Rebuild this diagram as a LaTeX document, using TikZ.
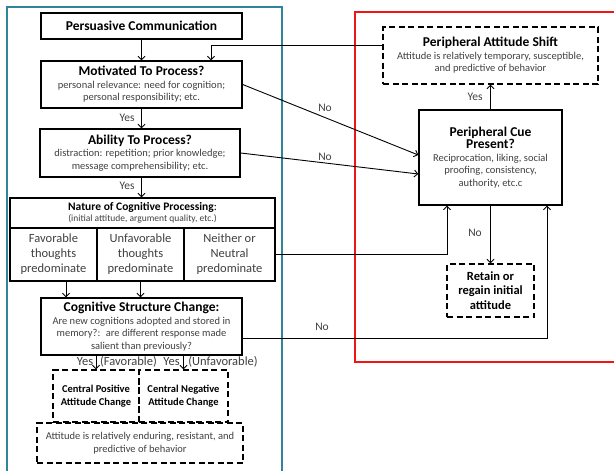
\documentclass[tikz,border=0pt]{standalone}
\usepackage{fontspec}
\setmainfont{Carlito}
\usetikzlibrary{arrows.meta}

\definecolor{frameblue}{RGB}{49,133,155}
\definecolor{framered}{RGB}{240,20,20}
\definecolor{textgray}{RGB}{64,64,64}

\newcommand{\ttlfont}{\color{black}\bfseries\fontsize{13.5}{15.5}\selectfont}

\begin{document}
\begin{tikzpicture}[x=1pt,y=-1pt,
  box/.style={draw, line width=1.4pt, align=center, inner sep=1pt,
    text=textgray, font=\fontsize{10.5}{12.5}\selectfont},
  dbox/.style={box, dash pattern=on 6pt off 3.5pt},
  subbox/.style={box, font=\fontsize{12.5}{15}\selectfont},
  arr/.style={line width=0.9pt, -{Straight Barb[length=3.5pt,width=7pt]}},
  lbl/.style={text=textgray, font=\fontsize{11.5}{13}\selectfont, inner sep=1pt},
  blbl/.style={lbl, font=\fontsize{12.5}{14}\selectfont}]

  \useasboundingbox (0,0) rectangle (614,471);

  % frames
  \draw[frameblue, line width=1.4pt] (7,475) -- (7,7) -- (282,7) -- (282,475);
  \draw[framered, line width=1.4pt] (620,12) -- (355,12) -- (355,362) -- (620,362);

  % central route
  \node[box, minimum width=201, minimum height=26] (pc) at (141.5,26)
    {\ttlfont Persuasive Communication};
  \node[box, minimum width=201, minimum height=47] (mot) at (141.5,84.5)
    {{\ttlfont Motivated To Process?}\\
     personal relevance: need for cognition;\\ personal responsibility; etc.};
  \node[box, minimum width=200, minimum height=48] (abl) at (140,153)
    {{\ttlfont Ability To Process?}\\
     distraction: repetition; prior knowledge;\\ message comprehensibility; etc.};
  \node[box, minimum width=265, minimum height=30, font=\fontsize{9.5}{11}\selectfont] (nat) at (142.5,213)
    {{\color{black}\bfseries\fontsize{11.5}{13}\selectfont Nature of Cognitive Processing}{\color{black}\fontsize{11.5}{13}\selectfont:}\\
     (initial attitude, argument quality, etc.)};
  \node[subbox, minimum width=87, minimum height=53] (fav) at (53.5,254.5)
    {Favorable\\thoughts\\predominate};
  \node[subbox, minimum width=87, minimum height=53] (unf) at (140.5,254.5)
    {Unfavorable\\thoughts\\predominate};
  \node[subbox, minimum width=91, minimum height=53] (nei) at (229.5,254.5)
    {Neither or\\Neutral\\predominate};
  \node[box, minimum width=201, minimum height=57] (csc) at (141.5,326.5)
    {{\ttlfont Cognitive Structure Change:}\\
     Are new cognitions adopted and stored in\\
     memory?:~ are different response made\\ salient than previously?};
  \node[dbox, minimum width=86, minimum height=52, text=black, font=\bfseries\fontsize{10.5}{12.5}\selectfont]
    (cpos) at (96,396) {Central Positive\\Attitude Change};
  \node[dbox, minimum width=89, minimum height=52, text=black, font=\bfseries\fontsize{10.5}{12.5}\selectfont]
    (cneg) at (183.5,396) {Central Negative\\Attitude Change};
  \node[dbox, minimum width=206, minimum height=40] (cent) at (140,443)
    {Attitude is relatively enduring, resistant, and\\ predictive of behavior};

  % peripheral route
  \node[dbox, minimum width=215, minimum height=57] (pas) at (490.5,55.5)
    {{\ttlfont Peripheral Attitude Shift}\\
     Attitude is relatively temporary, susceptible,\\ and predictive of behavior};
  \node[box, minimum width=143, minimum height=95] (cue) at (490.5,157.5)
    {{\ttlfont Peripheral Cue}\\ {\ttlfont Present?}\\
     Reciprocation, liking, social\\ proofing, consistency,\\ authority, etc.c};
  \node[dbox, minimum width=87, minimum height=53, text=black, font=\bfseries\fontsize{12.5}{14.5}\selectfont]
    (ret) at (490.5,290.5) {Retain or\\regain initial\\attitude};

  % connectors
  \draw[arr] (pc) -- (mot);
  \draw[arr] (mot) -- (abl.north -| mot.south);
  \draw[arr] (abl.south -| mot.south) -- (nat.north -| mot.south);
  \draw[arr] ([xshift=12.5pt]fav.south) -- ([xshift=12.5pt]fav.south |- csc.north);
  \draw[arr] (unf.south) -- (unf.south |- csc.north);
  \draw[arr] (csc.south -| cpos.north) -- (cpos.north);
  \draw[arr] (csc.south -| cneg.north) -- (cneg.north);

  \draw[arr] ([yshift=10.5pt]pas.west) -| ([xshift=69.5pt]mot.north);
  \draw[arr] (mot.east) -- ([yshift=2.5pt]cue.west);
  \draw[arr] (abl.east) -- ([yshift=-16.5pt]cue.west);
  \draw[arr] (nei.east) -| ([xshift=-43.5pt]cue.south);
  \draw[arr] ([yshift=-11.5pt]csc.east) -| ([xshift=56.5pt]cue.south);
  \draw[arr] (cue) -- (pas);
  \draw[arr] (cue) -- (ret);

  % labels
  \node[lbl] (y1) at (127,118) {Yes};
  \node[lbl] (y2) at (127,186) {Yes};
  \node[blbl] (y3) at (85,362) {Yes};
  \node[blbl] (f3) at (128.5,362) {(Favorable)};
  \node[blbl] (y4) at (171.5,362) {Yes};
  \node[blbl] (f4) at (223,362) {(Unfavorable)};
  \node[lbl] (n1) at (325,108) {No};
  \node[lbl] (n2) at (325,157) {No};
  \node[lbl] (n3) at (322,327) {No};
  \node[lbl] (n4) at (475,233) {No};
  \node[lbl] (y5) at (475,97) {Yes};

\end{tikzpicture}
\end{document}
